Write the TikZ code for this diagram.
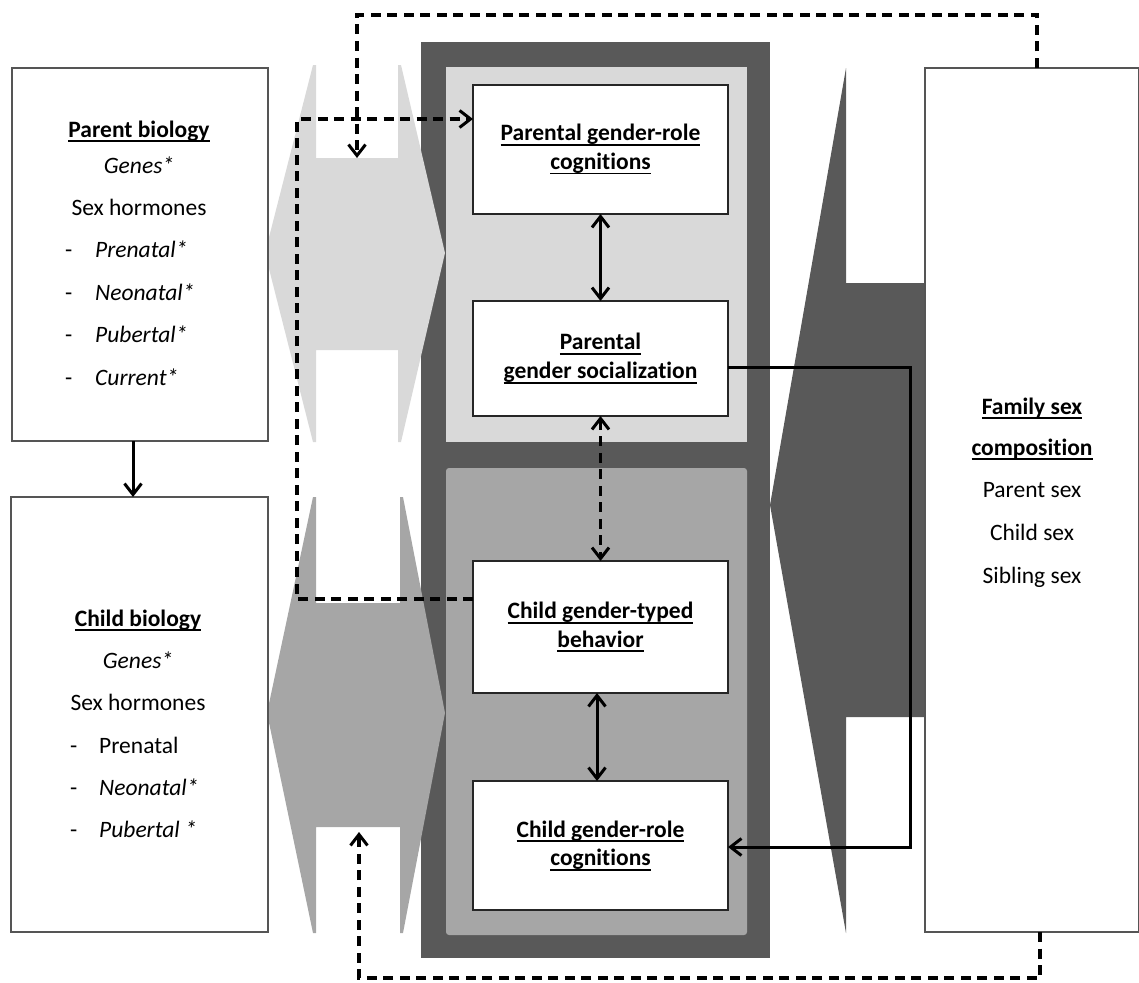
\documentclass[tikz,border=0pt]{standalone}
\usepackage{fontspec}
\setmainfont{Carlito}[Ligatures=NoCommon]
\usetikzlibrary{arrows.meta,calc}
\newsavebox\myulbox
\newcommand\myul[1]{\sbox\myulbox{#1}\usebox\myulbox\llap{\rule[-5pt]{\wd\myulbox}{1.7pt}}}
\definecolor{darkg}{HTML}{595959}
\definecolor{lightg}{HTML}{D9D9D9}
\definecolor{midg}{HTML}{A6A6A6}
\definecolor{edgeg}{HTML}{555555}
\tikzset{
  sidebox/.style={draw=edgeg, line width=1.3pt, fill=white, inner sep=0pt, outer sep=0pt},
  corebox/.style={draw=black!85, line width=1.2pt, fill=white, inner sep=0pt, outer sep=0pt,
     minimum width=255pt, align=center, font=\fontsize{23.5}{28.5}\selectfont\bfseries},
  txt/.style={font=\fontsize{23.5}{26}\selectfont, inner sep=0pt, anchor=base},
  itemtxt/.style={font=\fontsize{23.5}{26}\selectfont, inner sep=0pt, anchor=base west},
  tipb/.tip={Straight Barb[length=11pt,width=17pt,line width=3pt]},
  solidcon/.style={line width=3pt, black},
  dashcon/.style={line width=3.2pt, black, dash pattern=on 10pt off 6.5pt},
}
\begin{document}
\begin{tikzpicture}[x=1pt,y=-1pt]
\useasboundingbox (0,0) rectangle (1139,982);
% background panels
\fill[darkg] (421,42) rectangle (770,958);
\fill[lightg] (446,67) rectangle (747,442);
\fill[midg, rounded corners=3pt] (446,468) rectangle (747,935);
% left double-headed shapes
\fill[lightg] (265,253) -- (313,65) -- (316,65) -- (316,158) -- (398,158) -- (398,65) -- (401,65) -- (445,253)
  -- (401,442) -- (398,442) -- (398,350) -- (316,350) -- (316,442) -- (313,442) -- cycle;
\fill[midg] (267,713) -- (313,497) -- (316,497) -- (316,603) -- (400,603) -- (400,497) -- (403,497) -- (445,713)
  -- (403,933) -- (400,933) -- (400,827) -- (316,827) -- (316,933) -- (313,933) -- cycle;
% right big arrow
\fill[darkg] (770,505) -- (846,68) -- (846,283) -- (925,283) -- (925,717) -- (846,717) -- (846,933) -- cycle;
% side boxes
\node[sidebox, minimum width=256pt, minimum height=373pt] (pb) at (140,254.5) {};
\node[sidebox, minimum width=257pt, minimum height=435pt] (cb) at (139.5,714.5) {};
\node[sidebox, minimum width=214pt, minimum height=864pt] (fam) at (1032,500) {};
% parent biology text
\node[txt] (pbt) at (139,137) {\textbf{\myul{Parent biology}}};
\node[txt] (pb1) at (139,173) {\textit{Genes*}};
\node[txt] (pb2) at (139,215) {Sex hormones};
\node[itemtxt] (pb3) at (65,257) {\makebox[30pt][l]{-}\textit{Prenatal*}};
\node[itemtxt] (pb4) at (65,300) {\makebox[30pt][l]{-}\textit{Neonatal*}};
\node[itemtxt] (pb5) at (65,342) {\makebox[30pt][l]{-}\textit{Pubertal*}};
\node[itemtxt] (pb6) at (65,385) {\makebox[30pt][l]{-}\textit{Current*}};
% child biology text
\node[txt] (cbt) at (138,626) {\textbf{\myul{Child biology}}};
\node[txt] (cb1) at (138,668) {\textit{Genes*}};
\node[txt] (cb2) at (138,710) {Sex hormones};
\node[itemtxt] (cb3) at (70,753) {\makebox[29pt][l]{-}Prenatal};
\node[itemtxt] (cb4) at (70,795) {\makebox[29pt][l]{-}\textit{Neonatal*}};
\node[itemtxt] (cb5) at (70,837) {\makebox[29pt][l]{-}\textit{Pubertal *}};
% family text
\node[txt] (ft1) at (1032,414) {\textbf{\myul{Family sex}}};
\node[txt] (ft2) at (1032,455) {\textbf{\myul{composition}}};
\node[txt] (ft3) at (1032,497) {Parent sex};
\node[txt] (ft4) at (1032,540) {Child sex};
\node[txt] (ft5) at (1032,583) {Sibling sex};
% core boxes
\node[corebox, minimum height=129pt] (pgc) at (600.5,149.5) {\myul{Parental gender-role}\\\myul{cognitions}};
\node[corebox, minimum height=115pt] (pgs) at (600.5,358.5) {\myul{Parental}\\\myul{gender socialization}};
\node[corebox, minimum height=132pt] (cgb) at (600.5,627) {\myul{Child gender-typed}\\\myul{behavior}};
\node[corebox, minimum height=129pt] (cgr) at (600.5,845.5) {\myul{Child gender-role}\\\myul{cognitions}};
% free ends
\coordinate (ttip) at (357,158);
\coordinate (btip) at (359,832);
% connectors
\draw[solidcon, -{tipb}] ([xshift=-7pt]pb.south) -- ([xshift=-6.5pt]cb.north);
\draw[solidcon, {tipb}-{tipb}] (pgc.south) -- (pgs.north);
\draw[dashcon, {tipb}-{tipb}] (pgs.south) -- (cgb.north);
\draw[solidcon, {tipb}-{tipb}] ([xshift=-3.5pt]cgb.south) -- ([xshift=-3.5pt]cgr.north);
\draw[solidcon, -{tipb}] ([yshift=-8.5pt]pgs.east) -- ++(182,0) |- ([yshift=-1.5pt]cgr.east);
\draw[dashcon, -{tipb}] ([yshift=28pt]cgb.west) -- ++(-176,0) |- ([yshift=30.5pt]pgc.west);
\draw[dashcon, -{tipb}] ([xshift=5pt]fam.north) -- ++(0,-53) -| (ttip);
\draw[dashcon, -{tipb}] ([xshift=8pt]fam.south) -- ++(0,46) -| (btip);
\end{tikzpicture}
\end{document}
